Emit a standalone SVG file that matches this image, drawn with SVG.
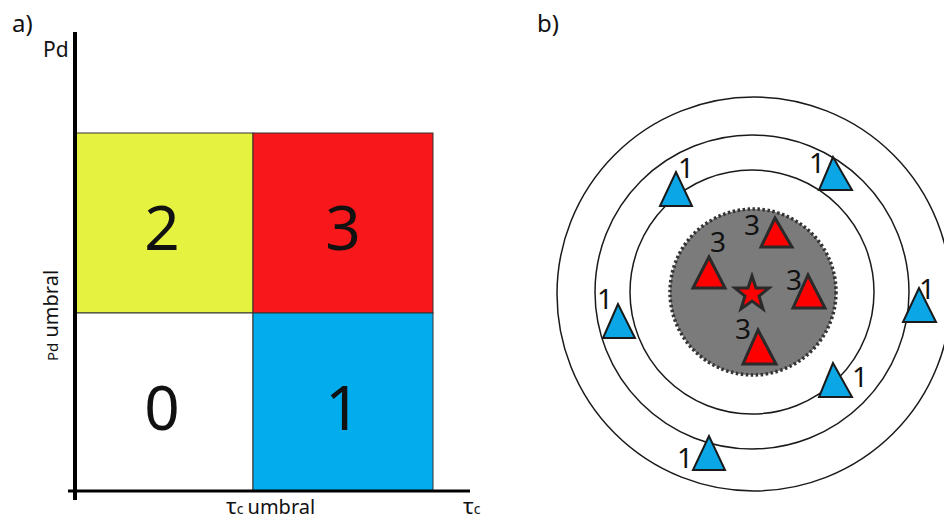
<svg xmlns="http://www.w3.org/2000/svg" width="944" height="522" viewBox="0 0 944 522">
<style>
text{font-family:"Noto Sans","Open Sans","DejaVu Sans",sans-serif;fill:#111}
.big{font-size:62px;text-anchor:middle}
.sq{stroke:#333;stroke-width:1}
.ring{fill:none;stroke:#1a1a1a;stroke-width:1.5}
.bt{fill:#0aa6e6;stroke:#1a1a1a;stroke-width:2;stroke-linejoin:miter}
.rt{fill:#f00;stroke:#2a2a2a;stroke-width:3;stroke-linejoin:miter}
.n{font-size:28px;text-anchor:middle}
</style>
<rect width="944" height="522" fill="#fff"/>
<text x="12" y="32" font-size="24">a)</text>
<text x="537" y="32" font-size="24">b)</text>
<g id="quadrants">
<g id="q2"><rect class="sq" x="75" y="133" width="178" height="180" fill="#e5f240"/><text class="big" x="162" y="250">2</text></g>
<g id="q3"><rect class="sq" x="253" y="133" width="180" height="180" fill="#f8171a"/><text class="big" x="343" y="250">3</text></g>
<g id="q0"><rect class="sq" x="75" y="313" width="178" height="178" fill="#fff"/><text class="big" x="162" y="430">0</text></g>
<g id="q1"><rect class="sq" x="253" y="313" width="180" height="178" fill="#03aced"/><text class="big" x="343" y="430">1</text></g>
</g>
<g id="axes">
<line x1="75" y1="32" x2="75" y2="500" stroke="#000" stroke-width="4"/>
<line x1="68" y1="491" x2="470" y2="491" stroke="#000" stroke-width="3"/>
<text x="43" y="57" font-size="21">Pd</text>
<text transform="translate(58,361) rotate(-90)" font-size="20"><tspan font-size="15">Pd</tspan> umbral</text>
<text x="226" y="514" font-size="22">τ<tspan font-size="14">c</tspan><tspan font-size="20" dx="4">umbral</tspan></text>
<text x="463" y="514" font-size="22">τ<tspan font-size="14">c</tspan></text>
</g>
<g id="rings">
<circle class="ring" cx="754" cy="294" r="197"/>
<circle class="ring" cx="752" cy="292" r="157"/>
<circle class="ring" cx="752" cy="292" r="122"/>
<circle cx="753" cy="292" r="83" fill="#7b7b7b" stroke="#333" stroke-width="3.5" stroke-dasharray="2.5 2.5"/>
</g>
<g id="blue-stations">
<polygon class="bt" points="676,172 660,206 692,206"/><text class="n" x="686" y="178">1</text>
<polygon class="bt" points="833,157 819,190 852,190"/><text class="n" x="817" y="173">1</text>
<polygon class="bt" points="618,304 603,338 635,338"/><text class="n" x="605" y="309">1</text>
<polygon class="bt" points="919,288 903,322 936,322"/><text class="n" x="927" y="299">1</text>
<polygon class="bt" points="709,436 693,470 725,470"/><text class="n" x="685" y="468">1</text>
<polygon class="bt" points="833,363 819,397 852,397"/><text class="n" x="860" y="387">1</text>
</g>
<g id="red-stations">
<polygon class="rt" points="775,218 761,247 792,247"/><text class="n" x="752" y="235">3</text>
<polygon class="rt" points="709,257 693,288 725,288"/><text class="n" x="718" y="252">3</text>
<polygon class="rt" points="808,275 793,308 825,308"/><text class="n" x="794" y="290">3</text>
<polygon class="rt" points="758,330 743,364 776,364"/><text class="n" x="743" y="339">3</text>
<polygon id="star" class="rt" stroke-width="2.5" points="752,276 756,288 769,288 759,296 763,309 752,301 741,309 745,296 735,288 748,288"/>
</g>
</svg>
